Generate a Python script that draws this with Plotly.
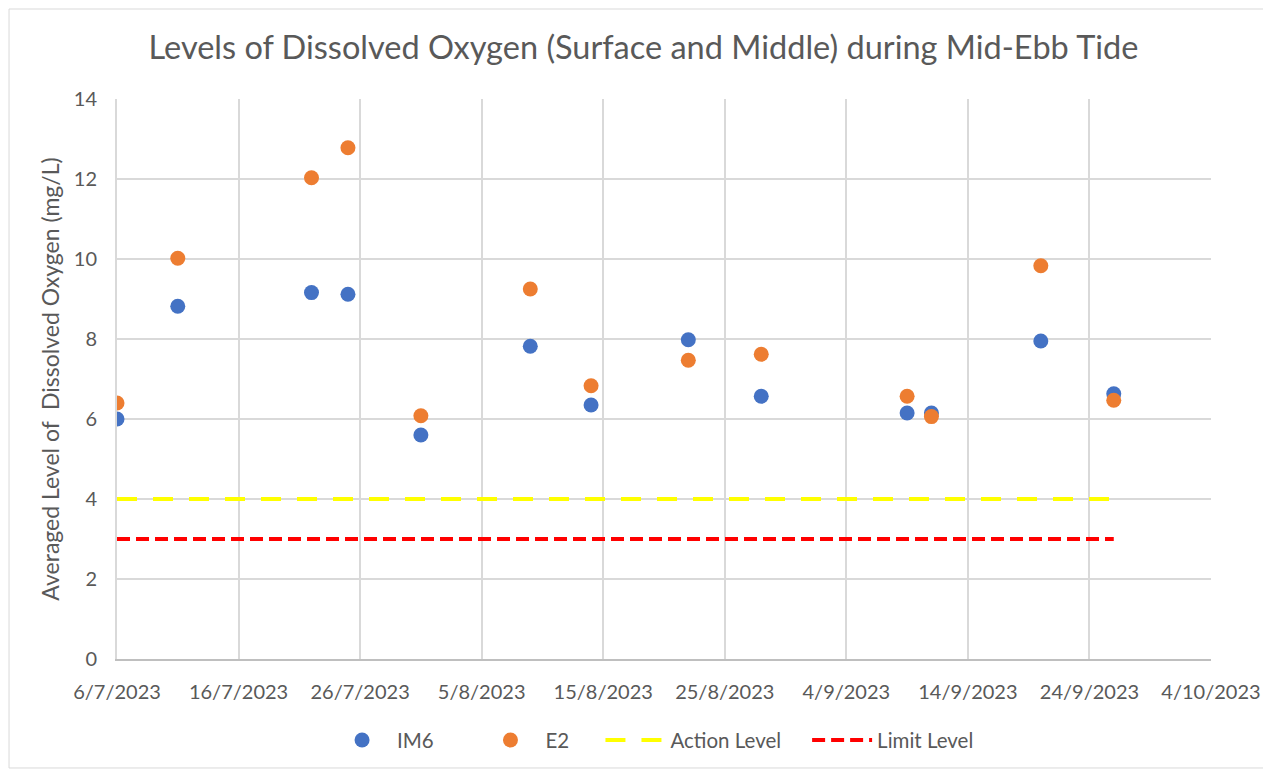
import plotly.graph_objects as go

dates = ["2023-07-06", "2023-07-11", "2023-07-22", "2023-07-25", "2023-07-31",
         "2023-08-09", "2023-08-14", "2023-08-22", "2023-08-28", "2023-09-09",
         "2023-09-11", "2023-09-20", "2023-09-26"]
im6 = [6.0, 8.82, 9.16, 9.12, 5.6, 7.82, 6.35, 7.98, 6.57, 6.15, 6.15, 7.95, 6.63]
e2 = [6.4, 10.02, 12.03, 12.78, 6.08, 9.25, 6.83, 7.47, 7.62, 6.57, 6.06, 9.83, 6.47]
action_level = [4] * len(dates)
limit_level = [3] * len(dates)
tick_vals = ["2023-07-06", "2023-07-16", "2023-07-26", "2023-08-05", "2023-08-15",
             "2023-08-25", "2023-09-04", "2023-09-14", "2023-09-24", "2023-10-04"]
tick_text = ["6/7/2023", "16/7/2023", "26/7/2023", "5/8/2023", "15/8/2023",
             "25/8/2023", "4/9/2023", "14/9/2023", "24/9/2023", "4/10/2023"]

FONT = "Lato"
GREY = "#595959"
NB = "\u00a0"

fig = go.Figure()
fig.add_trace(go.Scatter(x=dates, y=im6, mode="markers", name="IM6" + NB * 7,
                         marker=dict(color="#4472C4", size=15)))
fig.add_trace(go.Scatter(x=dates, y=e2, mode="markers", name="E2" + NB * 5,
                         marker=dict(color="#ED7D31", size=15)))
fig.add_trace(go.Scatter(x=dates, y=action_level, mode="lines", name="Action Level" + NB * 4,
                         line=dict(color="#FFFF00", width=4, dash="20px,16px")))
fig.add_trace(go.Scatter(x=dates, y=limit_level, mode="lines", name="Limit Level",
                         line=dict(color="#FF0000", width=4, dash="13px,6px")))

fig.update_layout(
    width=1271, height=771,
    paper_bgcolor="white", plot_bgcolor="white",
    margin=dict(l=109, r=68, t=91, b=120),
    title=dict(text="Levels of Dissolved Oxygen (Surface and Middle) during Mid-Ebb Tide",
               x=0.5, xanchor="center", y=0.949, yanchor="middle",
               font=dict(family=FONT, size=32.5, color=GREY)),
    font=dict(family=FONT, size=20, color=GREY),
    showlegend=True,
    legend=dict(orientation="h", x=0.49, xanchor="center", y=-0.145, yanchor="middle",
                font=dict(family=FONT, size=20.5, color=GREY), itemwidth=60),
    xaxis=dict(range=["2023-07-06", "2023-10-04"], tickvals=tick_vals, ticktext=tick_text,
               showgrid=True, gridcolor="#D9D9D9", gridwidth=2,
               showline=True, linecolor="#BFBFBF", linewidth=2, mirror=False,
               ticks="", ticklabelstandoff=14, tickfont=dict(size=20, color=GREY),
               zeroline=False),
    yaxis=dict(range=[0, 14], dtick=2, showgrid=True, gridcolor="#D9D9D9", gridwidth=2,
               showline=True, linecolor="#D9D9D9", linewidth=2,
               zeroline=False, ticks="", ticklabelstandoff=14,
               tickfont=dict(size=20, color=GREY),
               title=dict(text="Averaged Level of  Dissolved Oxygen (mg/L)",
                          font=dict(size=23, color=GREY), standoff=8)),
    shapes=[dict(type="rect", xref="paper", yref="paper",
                 x0=-0.0987, x1=1.0512, y0=-0.1946, y1=1.1607,
                 line=dict(color="#D9D9D9", width=1), layer="below")],
)

fig.write_html("out.html")
